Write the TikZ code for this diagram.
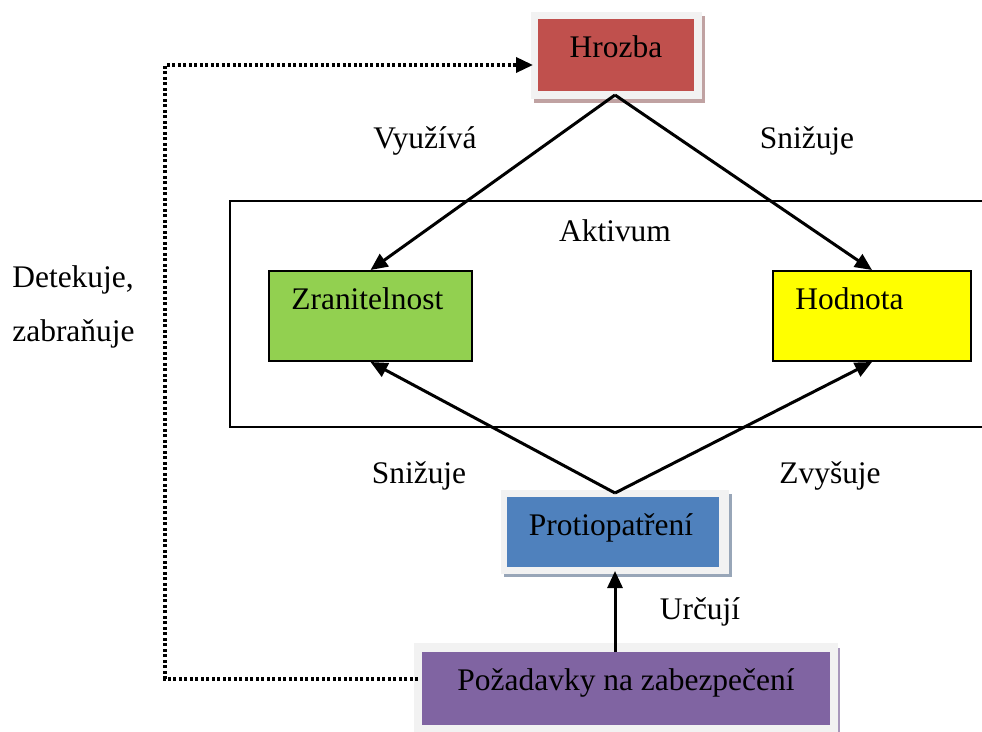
\documentclass[tikz,border=0pt]{standalone}
\usepackage{fontspec}
\setmainfont{Liberation Serif}
\usetikzlibrary{arrows.meta}
\definecolor{cred}{HTML}{C0504D}
\definecolor{cgreen}{HTML}{92D050}
\definecolor{cyellow}{HTML}{FFFF00}
\definecolor{cblue}{HTML}{4F81BD}
\definecolor{cpurple}{HTML}{8064A2}
\definecolor{cframe}{HTML}{F2F2F2}
\definecolor{cshred}{HTML}{C0A2A2}
\definecolor{cshblue}{HTML}{98A6B8}
\definecolor{cshpurple}{HTML}{A898BC}
\begin{document}
\begin{tikzpicture}[x=0.02cm,y=-0.02cm,
  txt/.style={font=\fontsize{17.9}{21}\selectfont, inner sep=0pt},
  colbox/.style={draw=none, inner sep=0pt},
  edged/.style={draw=black, line width=0.04cm, inner sep=0pt},
  frame/.style={fill=cframe, draw=none, inner sep=0pt},
  conn/.style={line width=0.06cm, -{Triangle[length=0.34cm,width=0.3cm]}},
  dotconn/.style={line width=0.07cm, dash pattern=on 0.06cm off 0.05cm, -{Triangle[length=0.34cm,width=0.3cm]}}]
\clip (0,0) rectangle (982,732);
\fill[white] (0,0) rectangle (982,732);

% Aktivum container
\draw[line width=0.04cm] (230,201) rectangle (1000,427);
\node[txt, anchor=base] (aktivum) at (615,242) {Aktivum};

% Hrozba
\fill[cshred] (534,16) rectangle (705,103);
\node[frame, minimum width=3.42cm, minimum height=1.74cm] (hrozbaframe) at (616.5,55.5) {};
\node[colbox, fill=cred, minimum width=3.12cm, minimum height=1.44cm] (hrozba) at (616,55) {};
\node[txt, anchor=base] (hrozbatext) at (616,58) {Hrozba};

% Zranitelnost
\node[edged, fill=cgreen, minimum width=4.06cm, minimum height=1.8cm] (zran) at (370.5,316) {};
\node[txt, anchor=base west] (zrantext) at (291,310) {Zranitelnost};

% Hodnota
\node[edged, fill=cyellow, minimum width=3.96cm, minimum height=1.8cm] (hodn) at (872,316) {};
\node[txt, anchor=base west] (hodntext) at (795,310) {Hodnota};

% Protiopatreni
\fill[cshblue] (504,494) rectangle (732,577);
\node[frame, minimum width=4.56cm, minimum height=1.68cm] (protiframe) at (615,532) {};
\node[colbox, fill=cblue, minimum width=4.24cm, minimum height=1.4cm] (proti) at (613,532) {};
\node[txt, anchor=base] (protitext) at (611,535) {Protiopatření};

% Pozadavky
\fill[cshpurple] (417,648) rectangle (840,735);
\node[frame, minimum width=8.48cm, minimum height=1.84cm] (pozframe) at (626,689) {};
\node[colbox, fill=cpurple, minimum width=8.16cm, minimum height=1.46cm] (poz) at (626,688.5) {};
\node[txt, anchor=base] (poztext) at (626,690) {Požadavky na zabezpečení};

% apex coordinates
\coordinate (hapex) at (615,95);
\coordinate (papex) at (615,493);
\coordinate (pbot) at (615,571);
\coordinate (dotA) at (165,679);
\coordinate (dotB) at (165,65);
\coordinate (dotStart) at (418,679);
\coordinate (dotEnd) at (533,65);

% connectors
\draw[conn] (hapex) -- (zran.north);
\draw[conn] (hapex) -- (hodn.north);
\draw[conn] (papex) -- (zran.south);
\draw[conn] (papex) -- (hodn.south);
\draw[conn] (poz.north -| papex) -- (pbot);
\draw[dotconn] (dotStart) -- (dotA) -- (dotB) -- (dotEnd);

% labels
\node[txt, anchor=base] (lvyuziva) at (425,149) {Využívá};
\node[txt, anchor=base] (lsnizuje1) at (807,149) {Snižuje};
\node[txt, anchor=base west] (ldetek) at (12,288) {Detekuje,};
\node[txt, anchor=base west] (lzabr) at (12,342) {zabraňuje};
\node[txt, anchor=base] (lsnizuje2) at (419,483) {Snižuje};
\node[txt, anchor=base] (lzvys) at (830,483) {Zvyšuje};
\node[txt, anchor=base] (lurc) at (700,619) {Určují};
\end{tikzpicture}
\end{document}
